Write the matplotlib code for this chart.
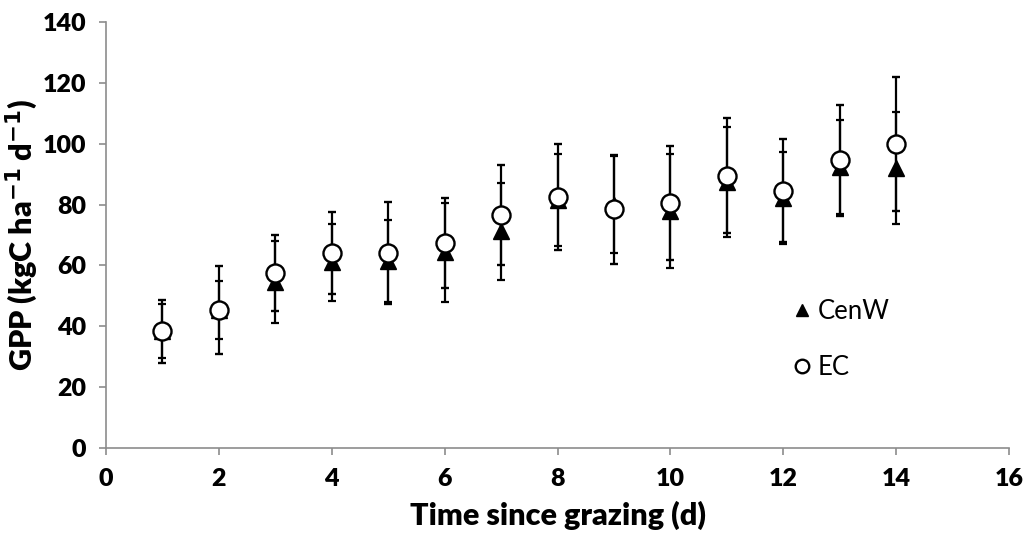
import matplotlib
matplotlib.use("Agg")
import matplotlib.pyplot as plt

# days since grazing
days = [1, 2, 3, 4, 5, 6, 7, 8, 9, 10, 11, 12, 13, 14]

# CenW model GPP and error
cenw = [38.5, 45.4, 54.5, 61.0, 61.5, 64.3, 71.2, 81.5, 80.0, 78.0, 87.5, 82.3, 92.3, 92.0]
cenw_err = [9.0, 9.6, 13.4, 12.5, 13.4, 16.2, 16.0, 15.0, 16.0, 18.7, 18.0, 15.1, 15.4, 18.4]

# eddy covariance GPP and error
ec = [38.4, 45.4, 57.6, 64.1, 64.0, 67.4, 76.5, 82.5, 78.4, 80.5, 89.5, 84.6, 94.5, 100.0]
ec_err = [10.4, 14.4, 12.5, 13.3, 16.8, 14.8, 16.5, 17.3, 17.8, 18.6, 19.0, 16.9, 18.3, 22.0]

plt.rcParams["font.family"] = ["Lato", "DejaVu Sans"]
GRAY = "#8c8c8c"

fig = plt.figure(figsize=(10.31, 5.51), dpi=100)
ax = fig.add_axes([0.1025, 0.1864, 0.8765, 0.7742])

ax.errorbar(days, cenw, yerr=cenw_err, fmt="^", color="black", ms=12, mec="black",
            ecolor="black", elinewidth=1.6, capsize=3, capthick=1.6, label="CenW", zorder=2)
ax.errorbar(days, ec, yerr=ec_err, fmt="o", color="white", ms=13, mec="black", mew=1.7,
            ecolor="black", elinewidth=1.6, capsize=3, capthick=1.6, label="EC", zorder=3)

ax.set_xlim(0, 16)
ax.set_ylim(0, 140)
ax.set_xticks(range(0, 17, 2))
ax.set_yticks(range(0, 141, 20))
for s in ["top", "right"]:
    ax.spines[s].set_visible(False)
for s in ["left", "bottom"]:
    ax.spines[s].set_color(GRAY)
    ax.spines[s].set_linewidth(1.2)
ax.tick_params(colors=GRAY, length=5, width=1.2, labelcolor="black", labelsize=18, pad=9)
for lab in ax.get_xticklabels() + ax.get_yticklabels():
    lab.set_fontweight("heavy")

ax.set_xlabel("Time since grazing (d)", fontsize=22, fontweight="heavy", labelpad=8)
ax.set_ylabel("GPP (kgC ha$^{\\mathbf{-1}}$ d$^{\\mathbf{-1}}$)", fontsize=22, fontweight="heavy", labelpad=2)

h, l = ax.get_legend_handles_labels()
h = [x[0] for x in h]
ax.legend(h, l, loc="center left", bbox_to_anchor=(0.735, 0.255), frameon=False,
          fontsize=18.5, handlelength=0.7, handletextpad=0.25, labelspacing=1.2, markerscale=0.75)

fig.savefig("out.png", dpi=100)
